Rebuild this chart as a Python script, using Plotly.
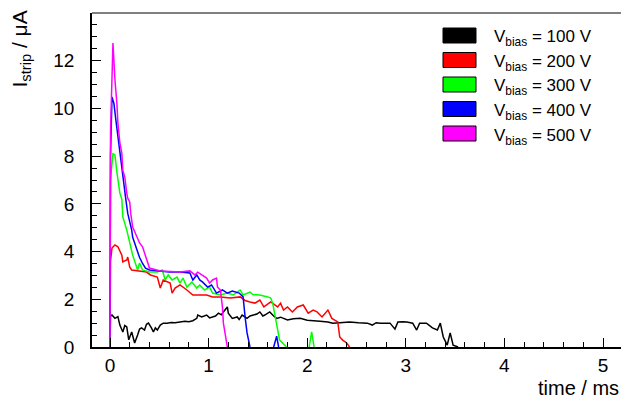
import plotly.graph_objects as go

# ---------------- data (time in ms, current in uA) ----------------
t_100 = [0, 0.005, 0.02, 0.05, 0.08, 0.10, 0.13, 0.15, 0.17, 0.19, 0.22, 0.25, 0.28, 0.30, 0.32, 0.35,
         0.37, 0.39, 0.42, 0.44, 0.46, 0.48, 0.51, 0.54, 0.58, 0.62, 0.66, 0.71, 0.76, 0.80, 0.84,
         0.88, 0.89, 0.93, 0.96, 0.98, 1.01, 1.04, 1.07, 1.10, 1.13, 1.15, 1.19, 1.20, 1.24, 1.29,
         1.31, 1.34, 1.37, 1.39, 1.42, 1.45, 1.49, 1.52, 1.55, 1.57, 1.60, 1.62, 1.66, 1.69, 1.73,
         1.80, 1.86, 1.93, 2.00, 2.06, 2.13, 2.21, 2.26, 2.33, 2.43, 2.52, 2.61, 2.66, 2.70, 2.74,
         2.84, 2.89, 2.92, 2.97, 3.01, 3.07, 3.11, 3.14, 3.21, 3.27, 3.32, 3.35, 3.38, 3.42, 3.45,
         3.48, 3.53]
i_100 = [0, 1.30, 1.34, 1.20, 1.27, 0.92, 0.63, 0.90, 0.84, 0.30, 0.63, 0.17, 0.50, 0.75, 0.80, 0.71,
         0.95, 1.00, 0.80, 0.63, 0.80, 0.71, 0.92, 1.00, 1.00, 1.03, 1.02, 1.05, 1.08, 1.06, 1.10,
         1.20, 1.34, 1.26, 1.30, 1.34, 1.22, 1.26, 1.30, 1.42, 1.35, 1.47, 1.68, 1.42, 1.20, 1.26,
         1.15, 1.34, 1.25, 1.20, 1.30, 1.34, 1.38, 1.47, 1.30, 1.34, 1.40, 1.47, 1.30, 1.20, 1.25,
         1.13, 1.18, 1.20, 1.12, 1.09, 1.08, 1.05, 1.00, 1.02, 1.05, 1.02, 1.00, 0.92, 1.02, 1.00,
         1.00, 0.75, 1.05, 1.06, 1.05, 1.00, 0.71, 1.00, 1.00, 0.80, 0.71, 1.00, 0.42, 0.08, 0.59,
         0.08, 0]

t_200 = [0, 0.005, 0.02, 0.05, 0.08, 0.12, 0.13, 0.17, 0.18, 0.20, 0.22, 0.27, 0.37, 0.41, 0.48,
         0.51, 0.54, 0.61, 0.63, 0.66, 0.71, 0.78, 0.84, 0.98, 1.04, 1.12, 1.22, 1.32, 1.37, 1.42,
         1.47, 1.52, 1.56, 1.63, 1.70, 1.73, 1.76, 1.80, 1.85, 1.90, 1.96, 2.01, 2.06, 2.10, 2.15,
         2.21, 2.25, 2.31, 2.33, 2.36, 2.40, 2.43]
i_200 = [0, 3.60, 4.15, 4.28, 4.20, 3.85, 3.57, 3.65, 3.77, 3.35, 3.23, 3.19, 3.14, 3.02, 2.93,
         2.47, 2.81, 2.68, 2.26, 2.47, 2.60, 2.39, 2.18, 2.18, 2.10, 2.10, 2.05, 2.10, 1.95, 1.89,
         1.84, 1.97, 1.68, 1.89, 1.68, 1.84, 1.55, 1.68, 1.47, 1.68, 1.76, 1.42, 1.55, 1.47, 1.26,
         1.55, 1.20, 1.05, 0.42, 0.29, 0.17, 0]

t_300 = [0, 0.005, 0.03, 0.05, 0.07, 0.10, 0.12, 0.13, 0.17, 0.20, 0.23, 0.27, 0.28, 0.30, 0.33,
         0.40, 0.48, 0.53, 0.56, 0.59, 0.63, 0.68, 0.71, 0.74, 0.78, 0.83, 0.88, 0.91, 0.96, 1.01,
         1.04, 1.12, 1.19, 1.25, 1.32, 1.35, 1.42, 1.45, 1.52, 1.60, 1.63, 1.65, 1.67, 1.69, 1.72,
         1.75, 1.79, None, 2.02, 2.045, 2.07]
i_300 = [0, 7.0, 8.10, 8.05, 7.33, 6.45, 6.20, 5.45, 4.90, 4.40, 3.85, 3.35, 3.23, 3.52, 3.23,
         3.14, 3.14, 3.23, 2.81, 3.02, 2.81, 2.93, 2.68, 2.89, 2.51, 2.72, 2.47, 2.60, 2.39, 2.51,
         2.26, 2.18, 2.26, 2.18, 2.39, 2.18, 2.30, 2.20, 2.18, 2.10, 2.05, 1.84, 1.42, 1.00, 0.29,
         0.17, 0, None, 0, 0.63, 0]

t_400 = [0, 0.005, 0.02, 0.04, 0.06, 0.08, 0.10, 0.12, 0.14, 0.16, 0.18, 0.20, 0.22, 0.23, 0.25,
         0.27, 0.30, 0.33, 0.36, 0.40, 0.47, 0.60, 0.71, 0.81, 0.84, 0.88, 0.91, 0.94, 0.99, 1.03,
         1.08, 1.14, 1.19, 1.24, 1.31, 1.35, 1.37, 1.39, 1.42, None, 1.66, 1.69, 1.71]
i_400 = [0, 8.0, 10.48, 10.20, 9.50, 8.80, 8.20, 7.40, 6.80, 6.20, 5.60, 5.30, 4.90, 4.60, 4.36,
         4.10, 3.75, 3.50, 3.30, 3.23, 3.19, 3.14, 3.14, 3.10, 2.81, 3.02, 2.81, 2.72, 2.51, 2.60,
         2.26, 2.39, 2.26, 2.35, 2.26, 2.10, 1.26, 0.59, 0, None, 0, 0.45, 0]

t_500 = [0, 0.005, 0.03, 0.035, 0.05, 0.07, 0.08, 0.10, 0.12, 0.13, 0.15, 0.17, 0.18, 0.20, 0.21,
         0.23, 0.27, 0.30, 0.33, 0.37, 0.40, 0.51, 0.71, 0.81, 0.86, 0.89, 0.94, 0.98, 1.01, 1.04,
         1.08, 1.09, 1.12, 1.14, 1.15, 1.19]
i_500 = [0, 9.0, 12.74, 12.15, 11.20, 10.20, 9.40, 8.55, 8.13, 7.40, 7.12, 6.45, 6.24, 6.08, 5.60,
         5.03, 4.60, 4.36, 4.20, 3.65, 3.31, 3.19, 3.14, 3.19, 3.02, 3.14, 3.02, 2.89, 2.68, 2.81,
         2.89, 2.51, 2.39, 1.68, 1.00, 0]

series_labels = ["100 V", "200 V", "300 V", "400 V", "500 V"]
series_t = [t_100, t_200, t_300, t_400, t_500]
series_i = [i_100, i_200, i_300, i_400, i_500]
colors = ["#000000", "#ff0000", "#00ff00", "#0000ff", "#ff00ff"]

x_range = [-0.1826, 5.1826]
y_range = [0, 14]
x_ticks = [0, 1, 2, 3, 4, 5]
y_ticks = [0, 2, 4, 6, 8, 10, 12]

# ---------------- figure ----------------
W, H = 621, 403
ML, MR, MT, MB = 92, 0, 13, 56
pw, ph = W - ML - MR, H - MT - MB
FONT = "Liberation Sans, Arial, Helvetica, sans-serif"

fig = go.Figure()
for t, i, c, lab in zip(series_t, series_i, colors, series_labels):
    fig.add_trace(go.Scatter(x=t, y=i, mode="lines", line=dict(color=c, width=1.5),
                             name=lab, showlegend=False, connectgaps=False))


def px_to_paper_x(px):
    return (px - ML) / pw


def px_to_paper_y(py):
    return (H - MB - py) / ph


shapes = [dict(type="line", xref="paper", yref="paper", x0=0, x1=1, y0=1, y1=1,
               line=dict(color="black", width=1))]
annotations = []
for k, (lab, c) in enumerate(zip(series_labels, colors)):
    yc = 35.5 + 24.5 * k
    shapes.append(dict(type="rect", xref="paper", yref="paper",
                       x0=px_to_paper_x(443), x1=px_to_paper_x(476),
                       y0=px_to_paper_y(yc + 7.5), y1=px_to_paper_y(yc - 7.5),
                       fillcolor=c, line=dict(color="black", width=1)))
    annotations.append(dict(xref="paper", yref="paper", x=px_to_paper_x(492),
                            y=px_to_paper_y(yc + 3), xanchor="left", yanchor="middle",
                            text="V<sub>bias</sub> = " + lab, showarrow=False,
                            font=dict(family=FONT, size=17, color="black")))

annotations.append(dict(xref="paper", yref="paper", x=1.0, y=px_to_paper_y(388),
                        xanchor="right", yanchor="middle", text="time / ms", showarrow=False,
                        font=dict(family=FONT, size=20, color="black")))
annotations.append(dict(xref="paper", yref="paper", x=px_to_paper_x(21), y=px_to_paper_y(9),
                        xanchor="center", yanchor="top", textangle=-90,
                        text="I<sub>strip</sub> / μA", showarrow=False,
                        font=dict(family=FONT, size=21, color="black")))

fig.update_layout(
    width=W, height=H,
    margin=dict(l=ML, r=MR, t=MT, b=MB, pad=0),
    paper_bgcolor="white", plot_bgcolor="white",
    showlegend=False,
    shapes=shapes, annotations=annotations,
    font=dict(family=FONT, size=19, color="black"),
    xaxis=dict(range=x_range, tickvals=x_ticks, ticks="inside", ticklen=9, tickwidth=1,
               tickcolor="black", showline=True, linecolor="black", linewidth=1.5,
               showgrid=False, zeroline=False, mirror=False, layer="above traces",
               tickfont=dict(family=FONT, size=19),
               minor=dict(dtick=0.2, tick0=0, ticks="inside", ticklen=5, tickcolor="black",
                          showgrid=False)),
    yaxis=dict(range=y_range, tickvals=y_ticks, ticks="inside", ticklen=9, tickwidth=1,
               tickcolor="black", showline=True, linecolor="black", linewidth=1.5,
               showgrid=False, zeroline=False, mirror=False, layer="above traces",
               ticklabelstandoff=12,
               tickfont=dict(family=FONT, size=19),
               minor=dict(dtick=0.5, tick0=0, ticks="inside", ticklen=5, tickcolor="black",
                          showgrid=False)),
)

fig.write_html("out.html")
